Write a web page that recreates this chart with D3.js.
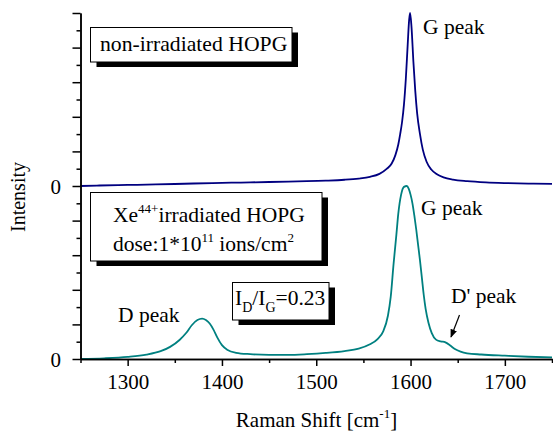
<!DOCTYPE html>
<html lang="en">
<head>
<meta charset="UTF-8">
<title>Raman spectra HOPG</title>
<script src="https://d3js.org/d3.v7.min.js"></script>
</head>
<body style="margin:0; background:#fff">
<svg id="chart" width="553" height="434" font-family="Liberation Serif"></svg>
<script>
// Raman shift (cm^-1) and normalised intensity
var pristineShift = [1250, 1270, 1300, 1330, 1360, 1390, 1420, 1450, 1480, 1510, 1530, 1545, 1557, 1567, 1575,
  1580, 1584, 1587, 1589, 1591, 1593, 1595, 1597, 1598.5, 1599.5, 1601, 1603, 1605, 1607, 1610, 1613,
  1617, 1622, 1628, 1635, 1645, 1660, 1680, 1700, 1725, 1750];
var pristineInt = [0, 0.3, 0.6, 0.9, 1.3, 1.7, 2.0, 2.3, 2.7, 3.1, 3.6, 4.3, 5.3, 7, 10,
  13, 18, 24, 30, 37, 47, 62, 82, 96, 100, 92, 72, 55, 42, 30, 21,
  14, 9.5, 6.8, 5.0, 3.7, 2.8, 2.1, 1.7, 1.4, 1.2];

var irradShift = [1250, 1275, 1300, 1320, 1335, 1345, 1355, 1362, 1368, 1374, 1379, 1383, 1387, 1391, 1395,
  1400, 1406, 1415, 1430, 1450, 1470, 1490, 1510, 1530, 1545, 1557, 1565, 1571, 1576, 1579, 1582,
  1585, 1587, 1590, 1593, 1596, 1598, 1600, 1602, 1604, 1606, 1608, 1610, 1612, 1614, 1616, 1619, 1622.5, 1627,
  1632, 1637, 1642, 1647, 1653, 1660, 1675, 1700, 1725, 1750];
var irradInt = [0, 0.4, 1.2, 2.5, 4.5, 7, 11, 15, 19.5, 22.5, 23.3, 22.5, 20.5, 17, 12.5,
  8, 5.2, 3.6, 2.8, 2.4, 2.4, 2.8, 3.5, 4.6, 6, 8.5, 11.5, 16, 25, 36, 55,
  72, 84, 95, 99.5, 100, 98.5, 95, 90, 83, 75, 66, 57, 47, 37, 29, 21, 15, 11.2,
  10.2, 9.6, 7.8, 5.8, 4.3, 3.3, 2.6, 1.9, 1.3, 0.9];

var xMajorTicks = [1300, 1400, 1500, 1600, 1700];
var xMinorTicks = [1250, 1350, 1450, 1550, 1650, 1750];

var FONT = "Liberation Serif";
var svg = d3.select("#chart");

var x = d3.scaleLinear().domain([1250, 1750]).range([80.5, 552]);
var yTop = d3.scaleLinear().domain([0, 100]).range([186, 13]);
var yBot = d3.scaleLinear().domain([0, 100]).range([359, 186]);
// one continuous left axis running through both panels
var yAxisScale = d3.scaleLinear().domain([0, 200]).range([359, 13]);

var pristine = pristineShift.map((s, i) => [s, pristineInt[i]]);
var irrad = irradShift.map((s, i) => [s, irradInt[i]]);

// spectra
svg.append("path")
  .datum(pristine)
  .attr("fill", "none")
  .attr("stroke", "#000080")
  .attr("stroke-width", 1.8)
  .attr("d", d3.line().x(d => x(d[0])).y(d => yTop(d[1])).curve(d3.curveMonotoneX));

svg.append("path")
  .datum(irrad)
  .attr("fill", "none")
  .attr("stroke", "#008080")
  .attr("stroke-width", 1.8)
  .attr("d", d3.line().x(d => x(d[0])).y(d => yBot(d[1])).curve(d3.curveMonotoneX));

// x axis
var gx = svg.append("g").attr("transform", "translate(0,359)");
gx.call(d3.axisBottom(x).tickValues(xMajorTicks).tickSize(7).tickPadding(8).tickSizeOuter(0).tickFormat(d3.format("d")));
gx.append("g").call(d3.axisBottom(x).tickValues(xMinorTicks).tickSize(4).tickSizeOuter(0).tickFormat(""));
gx.attr("font-family", FONT);
gx.selectAll("text").attr("font-size", 21).attr("font-family", FONT).attr("fill", "#000");

// y axis
var gy = svg.append("g").attr("transform", "translate(80.5,0)");
gy.call(d3.axisLeft(yAxisScale).tickValues(d3.range(0, 201, 20)).tickSize(8).tickSizeOuter(0).tickFormat(""));
gy.append("g").call(d3.axisLeft(yAxisScale).tickValues(d3.range(10, 200, 20)).tickSize(4).tickSizeOuter(0).tickFormat(""));

svg.selectAll(".domain, .tick line").attr("stroke", "#000").attr("stroke-width", 1.5);

// zero labels for both panels
svg.selectAll(".zero")
  .data([yBot(0), yTop(0)])
  .join("text")
  .attr("class", "zero")
  .attr("x", 61)
  .attr("y", d => d)
  .attr("dy", "0.36em")
  .attr("text-anchor", "end")
  .attr("font-size", 21)
  .text("0");

// axis titles
svg.append("text")
  .attr("x", 316.5).attr("y", 427)
  .attr("text-anchor", "middle").attr("font-size", 21)
  .html('Raman Shift [cm<tspan font-size="13" dy="-9">-1</tspan><tspan dy="9">]</tspan>');

svg.append("text")
  .attr("transform", "translate(25,197) rotate(-90)")
  .attr("text-anchor", "middle").attr("font-size", 20)
  .text("Intensity");

// boxed notes with drop shadow
function box(x0, y0, x1, y1) {
  svg.append("rect").attr("x", x0 + 6).attr("y", y0 + 5).attr("width", x1 - x0).attr("height", y1 - y0).attr("fill", "#000");
  svg.append("rect").attr("x", x0).attr("y", y0).attr("width", x1 - x0).attr("height", y1 - y0)
    .attr("fill", "#fff").attr("stroke", "#000").attr("stroke-width", 1);
}

box(90.5, 27.5, 292, 62);
svg.append("text").attr("x", 100).attr("y", 51).attr("font-size", 21.7).text("non-irradiated HOPG");

box(90.5, 192.5, 322, 261);
svg.append("text").attr("x", 113).attr("y", 222).attr("font-size", 21.5)
  .html('Xe<tspan font-size="13" dy="-9">44+</tspan><tspan dy="9">irradiated HOPG</tspan>');
svg.append("text").attr("x", 113).attr("y", 251).attr("font-size", 21.5)
  .html('dose:1*10<tspan font-size="13" dy="-9">11</tspan><tspan dy="9"> ions/cm</tspan><tspan font-size="13" dy="-9">2</tspan>');

box(232.5, 282.5, 329, 320);
svg.append("text").attr("x", 235).attr("y", 305).attr("font-size", 21.5)
  .html('I<tspan font-size="14" dy="7">D</tspan><tspan dy="-7">/I</tspan><tspan font-size="14" dy="7">G</tspan><tspan dy="-7">=0.23</tspan>');

// peak labels
var labels = [
  {t: "G peak", x: 423, y: 34},
  {t: "G peak", x: 421, y: 215},
  {t: "D' peak", x: 451, y: 303},
  {t: "D peak", x: 118, y: 322}
];
svg.selectAll(".lbl")
  .data(labels)
  .join("text")
  .attr("class", "lbl")
  .attr("x", d => d.x).attr("y", d => d.y)
  .attr("font-size", 21.5)
  .text(d => d.t);

svg.selectAll("text").attr("font-family", FONT).attr("fill", "#000");

// arrow to the D' shoulder
svg.append("defs").append("marker")
  .attr("id", "head").attr("viewBox", "0 0 10 10").attr("refX", 9).attr("refY", 5)
  .attr("markerWidth", 7).attr("markerHeight", 7).attr("orient", "auto")
  .append("path").attr("d", "M0,1L10,5L0,9Z").attr("fill", "#000");
svg.append("line")
  .attr("x1", 459.5).attr("y1", 315).attr("x2", 451).attr("y2", 337)
  .attr("stroke", "#000").attr("stroke-width", 1.2)
  .attr("marker-end", "url(#head)");
</script>
</body>
</html>
